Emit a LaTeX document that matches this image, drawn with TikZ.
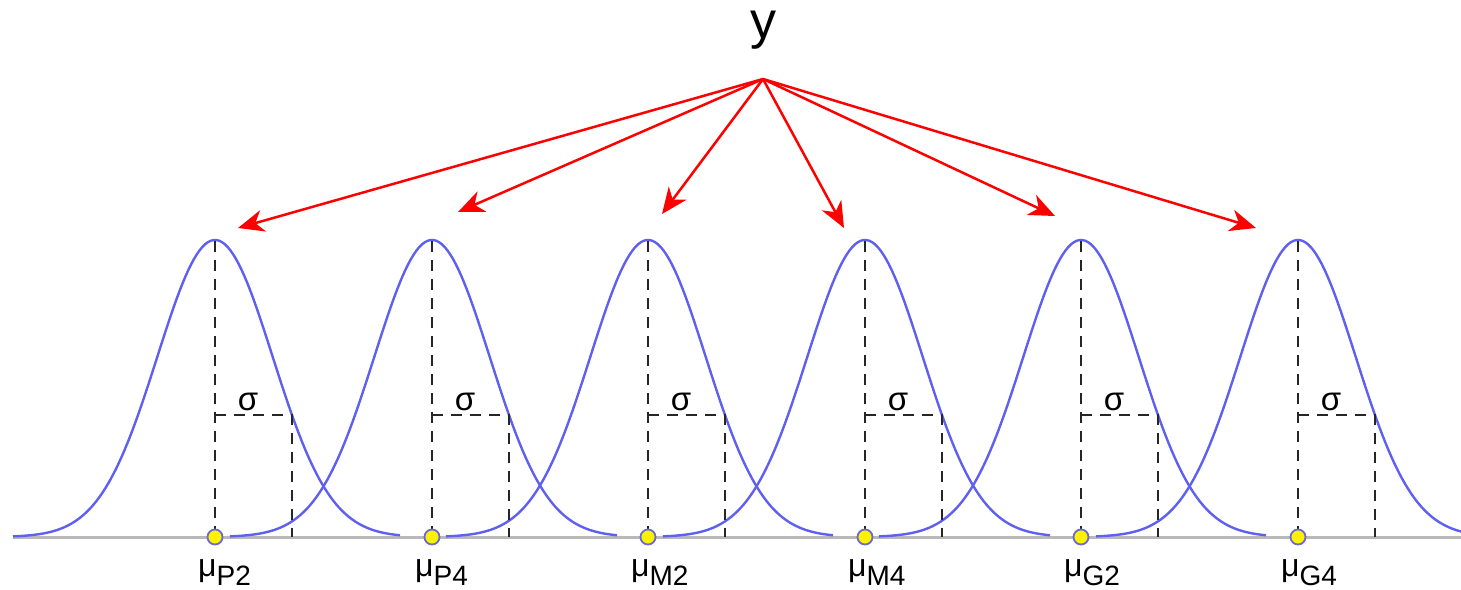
\documentclass[tikz,border=0pt]{standalone}
\usepackage{fontspec}
\setmainfont{Liberation Sans}
\usetikzlibrary{arrows.meta}
\definecolor{curveblue}{RGB}{95,95,240}
\definecolor{dotedge}{RGB}{105,105,215}
\definecolor{basegray}{RGB}{185,185,185}
\begin{document}
\begin{tikzpicture}[x=1pt,y=-1pt,
  gauss/.style={curveblue, line width=2.4pt},
  guide/.style={black!85, line width=1.8pt, dash pattern=on 11pt off 8pt},
  meandot/.style={circle, draw=dotedge, fill=yellow, line width=1.8pt, minimum size=15pt, inner sep=0pt},
  pointer/.style={red, line width=2.5pt, -{Stealth[length=26pt,width=22pt,inset=8pt]}},
  mulabel/.style={anchor=base west, inner sep=0pt},
  siglabel/.style={inner sep=0pt, font=\fontsize{33}{38}\selectfont}]
\useasboundingbox (0,0) rectangle (1461,589);
\clip (0,0) rectangle (1461,589);
\draw[basegray, line width=3pt] (13,537) -- (1461,537);
\foreach \m [count=\i] in {215,432,648,865,1081,1298} {
  \draw[gauss] plot[domain=-202:185, samples=140] ({\m+\x},{537-297*exp(-0.5*(\x/57.7)*(\x/57.7))});
}
\foreach \m [count=\i] in {215,432,648,865,1081,1298} {
  \coordinate (pk\i) at (\m,241);
  \coordinate (ft\i) at (\m,537);
  \coordinate (cn\i) at (\m,415);
  \coordinate (sc\i) at (\m+77,415);
  \coordinate (sb\i) at (\m+77,537);
  \draw[guide] (pk\i) -- (ft\i);
  \draw[guide] (cn\i) -- (sc\i) -- (sb\i);
  \node[siglabel] (sg\i) at (\m+33,402) {σ};
}
\foreach \m/\s [count=\i] in {215/P2,432/P4,648/M2,865/M4,1081/G2,1298/G4} {
  \node[meandot] (d\i) at (\m,537) {};
  \node[mulabel] (lab\i) at (\m-17,576) {\fontsize{32}{36}\selectfont μ\raisebox{-9pt}{\fontsize{28}{32}\selectfont \s}};
}
\node[anchor=base, inner sep=0pt, font=\fontsize{52}{60}\selectfont] (yv) at (763,38) {y};
\coordinate (src) at (763,79);
\coordinate (t1) at (238,228);
\coordinate (t2) at (458,212);
\coordinate (t3) at (662,214);
\coordinate (t4) at (844,228);
\coordinate (t5) at (1055,216);
\coordinate (t6) at (1256,228);
\foreach \i in {1,...,6} {
  \draw[pointer] (src) -- (t\i);
}
\end{tikzpicture}
\end{document}
